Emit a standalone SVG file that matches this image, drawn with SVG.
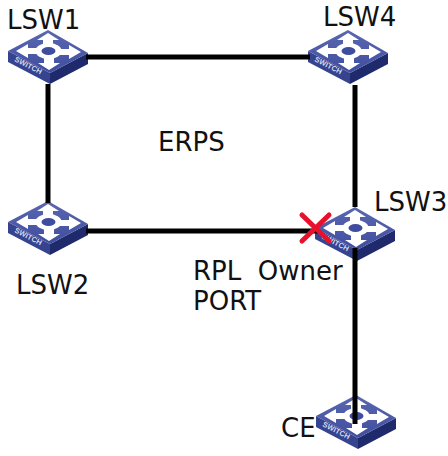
<svg xmlns="http://www.w3.org/2000/svg" width="448" height="456" viewBox="0 0 448 456">
<style>
.t{font-family:"DejaVu Sans",Verdana,sans-serif;font-size:26px;fill:#111}
.c{stroke:#000;stroke-width:5;fill:none}
.a{fill:#fff}
.s{font-family:"Liberation Sans",Arial,sans-serif;font-size:7.500px;font-weight:bold;fill:#d5daf0}
</style>
<defs>
<linearGradient id="top" x1="0" y1="0" x2="0" y2="1"><stop offset="0" stop-color="#5a68b2"/><stop offset="1" stop-color="#3f4d9e"/></linearGradient>
<g id="sw">
<polygon points="0,21 42,43 42,54 0,32" fill="#36448f"/>
<polygon points="42,43 80,23 80,34 42,54" fill="#1f2a6c"/>
<polygon points="40,0 80,23 42,43 0,21" fill="url(#top)"/>
<g class="a">
<polygon points="40,3 51,10 45,10 45,15 35,15 35,10 29,10"/>
<polygon points="41,40 30,33 36,33 36,27 46,27 46,33 52,33"/>
<polygon points="8,21 20,14 20,18 30,18 30,24 20,24 20,28"/>
<polygon points="73,22 61,15 61,19 51,19 51,25 61,25 61,29"/>
<ellipse cx="40.500" cy="21" rx="13" ry="8"/>
</g>
<ellipse cx="40.500" cy="21" rx="7" ry="4" fill="#3f4d9e"/>
<text class="s" transform="translate(6,31) rotate(27)">SWITCH</text>
</g>
</defs>
<g id="nodes-under">
<g id="LSW1"><use href="#sw" x="8" y="30"/><text class="t" x="7" y="29">LSW1</text></g>
<g id="LSW4"><use href="#sw" x="308" y="30"/><text class="t" x="323" y="26">LSW4</text></g>
<g id="LSW2"><use href="#sw" x="8" y="201"/><text class="t" x="16" y="294">LSW2</text></g>
<g id="LSW3"><use href="#sw" x="315" y="207"/><text class="t" x="374" y="211">LSW3</text></g>
<g id="CE"><use href="#sw" x="316" y="395"/><text class="t" x="281" y="437">CE</text></g>
</g>
<g id="connectors">
<line class="c" x1="86" y1="57" x2="310" y2="57"/>
<line class="c" x1="48" y1="84" x2="48" y2="203"/>
<line class="c" x1="86" y1="231" x2="318" y2="231"/>
<line class="c" x1="355" y1="85" x2="355" y2="207"/>
<line class="c" x1="355" y1="248" x2="355" y2="424"/>
</g>
<g id="labels">
<text class="t" x="158" y="151">ERPS</text>
<text class="t" x="193" y="280" xml:space="preserve">RPL  Owner</text>
<text class="t" x="193" y="310">PORT</text>
</g>
<g id="block" stroke="#e8112d" stroke-width="5" stroke-linecap="round">
<line x1="302" y1="215" x2="329" y2="241"/>
<line x1="329" y1="215" x2="302" y2="241"/>
</g>
</svg>
